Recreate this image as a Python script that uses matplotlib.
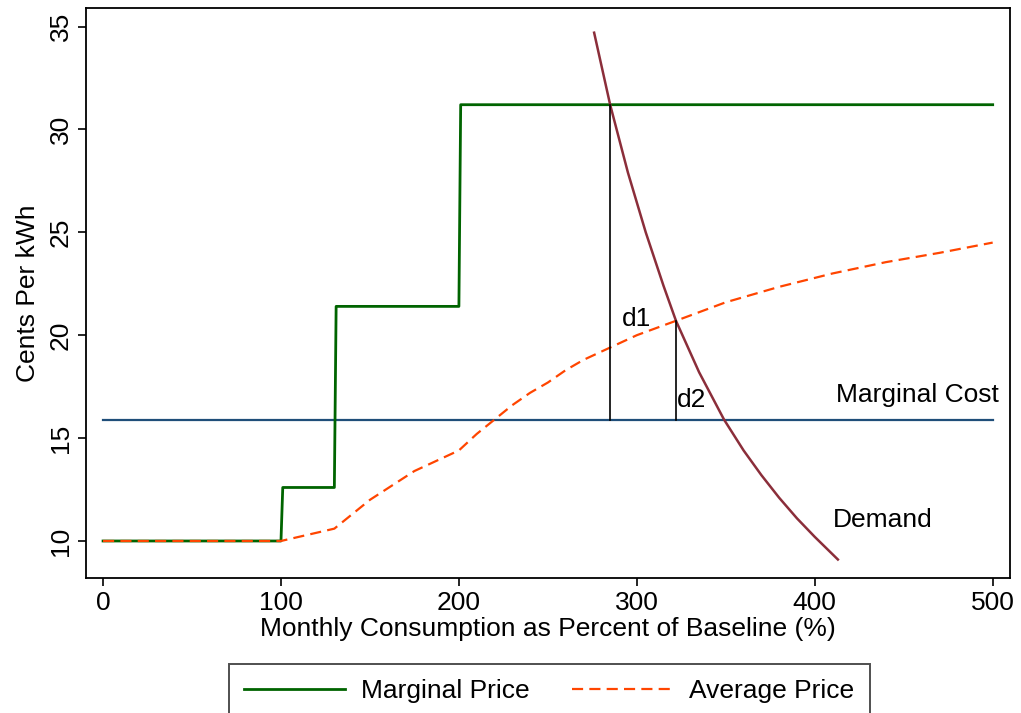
import matplotlib.pyplot as plt

plt.rcParams['font.family'] = ['Liberation Sans', 'DejaVu Sans']

# marginal price (tiered rate schedule)
mp_x = [0, 100, 101, 130, 131, 200, 201, 500]
mp_y = [10.0, 10.0, 12.6, 12.6, 21.4, 21.4, 31.2, 31.2]

# average price
ap_x = [0, 100, 115, 130, 150, 175, 200, 210, 220, 230, 240, 250, 260, 270,
        285, 300, 322, 350, 380, 410, 440, 470, 500]
ap_y = [10.0, 10.0, 10.3, 10.6, 12.0, 13.4, 14.4, 15.2, 15.9, 16.6, 17.2,
        17.7, 18.3, 18.8, 19.4, 20.0, 20.7, 21.6, 22.35, 23.0, 23.55, 24.0,
        24.5]

# demand curve
dem_x = [276, 285, 295, 305, 315, 322, 335, 349, 360, 370, 380, 390, 400, 413]
dem_y = [34.7, 31.2, 27.9, 25.0, 22.4, 20.7, 18.2, 15.9, 14.4, 13.2, 12.1,
         11.1, 10.2, 9.1]

mc_x = [0, 500]
mc_y = [15.9, 15.9]

# vertical distance markers
d1_x, d1_y = 285, (15.9, 31.2)
d2_x, d2_y = 322, (15.9, 20.7)

fig = plt.figure(figsize=(10.21, 7.13), dpi=100)
ax = fig.add_axes([0.0842, 0.1893, 0.9048, 0.7995])

ax.plot(mc_x, mc_y, color='#1f4e79', lw=1.6)
ax.plot(mp_x, mp_y, color='#006400', lw=2.0, label='Marginal Price')
ax.plot(ap_x, ap_y, color='#ff4500', lw=1.6, dashes=(5, 2.8), label='Average Price')
ax.plot(dem_x, dem_y, color='#8b2e3a', lw=1.8)
ax.plot([d1_x, d1_x], d1_y, color='black', lw=1.2)
ax.plot([d2_x, d2_x], d2_y, color='black', lw=1.2)

ax.text(300, 20.8, 'd1', fontsize=19, ha='center', va='center')
ax.text(331, 16.85, 'd2', fontsize=19, ha='center', va='center')
ax.text(412, 17.1, 'Marginal Cost', fontsize=19, ha='left', va='center')
ax.text(410, 11.0, 'Demand', fontsize=19, ha='left', va='center')

ax.set_xlim(-9.6, 509.6)
ax.set_ylim(8.2, 35.9)
ax.set_xticks([0, 100, 200, 300, 400, 500])
ax.set_yticks([10, 15, 20, 25, 30, 35])
ax.tick_params(labelsize=19, length=6, width=1.2)
for lab in ax.get_yticklabels():
    lab.set_rotation(90)
    lab.set_va('center')
for s in ax.spines.values():
    s.set_linewidth(1.3)

ax.set_xlabel('Monthly Consumption as Percent of Baseline (%)', fontsize=19, labelpad=1)
ax.set_ylabel('Cents Per kWh', fontsize=19, labelpad=6)

leg = fig.legend(loc='upper left', bbox_to_anchor=(0.2243, 0.0687), ncol=2,
                 fontsize=19, frameon=True, fancybox=False, edgecolor='#222222',
                 handlelength=3.8, handletextpad=0.64, columnspacing=1.6,
                 borderpad=0.58, borderaxespad=0)
leg.get_frame().set_linewidth(1.4)

fig.savefig('out.png', dpi=100)
